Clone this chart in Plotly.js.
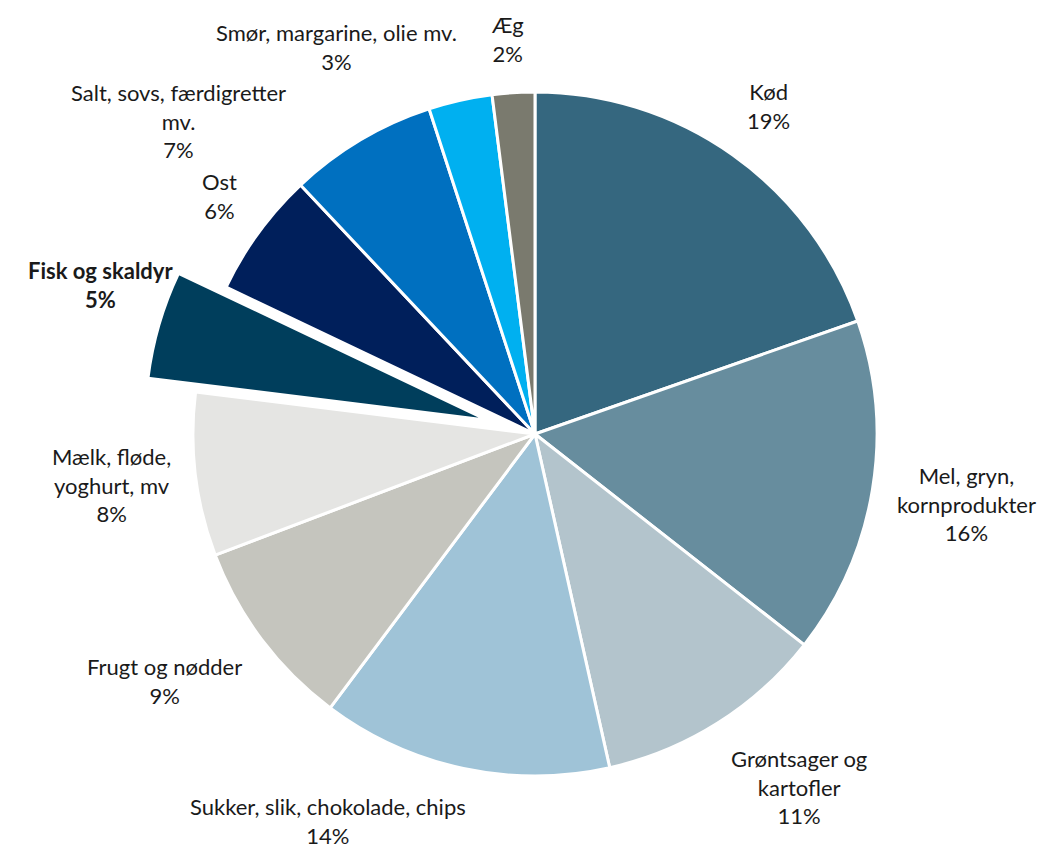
<!DOCTYPE html>
<html><head><meta charset="utf-8">
<script src="https://cdn.plot.ly/plotly-3.0.1.min.js"></script>
<style>body{margin:0;background:#fff}#chart{width:1049px;height:851px}</style>
</head><body><div id="chart"></div>
<script>
const categories = ["Kød","Mel, gryn, kornprodukter","Grøntsager og kartofler","Sukker, slik, chokolade, chips","Frugt og nødder","Mælk, fløde, yoghurt, mv","Fisk og skaldyr","Ost","Salt, sovs, færdigretter mv.","Smør, margarine, olie mv.","Æg"];
const labelLines = ["Kød","Mel, gryn,<br>kornprodukter","Grøntsager og<br>kartofler","Sukker, slik, chokolade, chips","Frugt og nødder","Mælk, fløde,<br>yoghurt, mv","Fisk og skaldyr","Ost","Salt, sovs, færdigretter<br>mv.","Smør, margarine, olie mv.","Æg"];
const shares = [19.6, 15.9, 10.9, 13.7, 9.0, 7.7, 5.1, 5.9, 7.0, 3.0, 2.0];
const shownPct = ["19%","16%","11%","14%","9%","8%","5%","6%","7%","3%","2%"];
const colors = ["#35677F","#678D9E","#B3C4CC","#9FC3D7","#C5C5BE","#E5E5E3","#003E5C","#001F5B","#0070C0","#00B0F0","#7A7A6E"];
const highlighted = "Fisk og skaldyr";

// layout settings (not data)
const W = 1049, H = 851, FS = 22, FONT = 'Lato';
const pullAmount = 0.145;
const highlightLabelShift = [-10, -34]; // px nudge for the exploded slice's label
const pull = categories.map(c => c === highlighted ? pullAmount : 0);
const dom = {x: [0.1367, 0.8833], y: [0.0298, 0.9502]};
const cx = W * (dom.x[0] + dom.x[1]) / 2, cy = H * (1 - (dom.y[0] + dom.y[1]) / 2);
const R = Math.min(W * (dom.x[1] - dom.x[0]), H * (dom.y[1] - dom.y[0])) / 2 / (1 + Math.max(...pull));
const total = shares.reduce((a, b) => a + b, 0);
let cum = 0;
const mids = shares.map(v => { const m = (cum + v / 2) / total * 360; cum += v; return m; });

const ctx = document.createElement('canvas').getContext('2d');
const LH = FS * 1.3, GAP = 25;
const boxes = categories.map((c, i) => {
  const bold = c === highlighted;
  ctx.font = (bold ? 'bold ' : '') + FS + 'px ' + FONT;
  const lines = labelLines[i].split('<br>').concat([shownPct[i]]);
  return {w: Math.max(...lines.map(l => ctx.measureText(l).width)), h: lines.length * LH};
});
const clamp = v => Math.max(-1, Math.min(1, v));
function boxAt(i, theta) {
  const t = theta * Math.PI / 180, s = Math.sin(t), c = Math.cos(t);
  const r = R + GAP;
  let ax = cx + r * s, ay = cy - r * c;
  if (categories[i] === highlighted) { ax += highlightLabelShift[0]; ay += highlightLabelShift[1]; }
  const b = boxes[i];
  const x = ax + b.w / 2 * clamp(4.5 * s), y = ay - b.h / 2 * clamp(1.5 * c);
  return {x, y, x0: x - b.w / 2, x1: x + b.w / 2, y0: y - b.h / 2, y1: y + b.h / 2};
}
const overlap = (a, b) => a.x0 < b.x1 + 4 && b.x0 < a.x1 + 4 && a.y0 < b.y1 + 2 && b.y0 < a.y1 + 2;
const placed = [];
const right = mids.map((m, i) => i).filter(i => mids[i] < 180);
const left = mids.map((m, i) => i).filter(i => mids[i] >= 180).reverse();
function place(i, step) {
  let th = mids[i], b = boxAt(i, th), n = 0;
  while (placed.some(p => overlap(p.b, b)) && n < 200) { th += step; b = boxAt(i, th); n++; }
  placed.push({i, b});
}
right.forEach(i => place(i, 0.5));
left.forEach(i => place(i, -0.5));

const annotations = placed.map(({i, b}) => {
  const bold = categories[i] === highlighted;
  const txt = labelLines[i] + '<br>' + shownPct[i];
  return {
    xref: 'paper', yref: 'paper', x: b.x / W, y: 1 - b.y / H,
    xanchor: 'center', yanchor: 'middle', showarrow: false, align: 'center',
    text: bold ? '<b>' + txt.replace('<br>', '</b><br><b>') + '</b>' : txt,
    font: {family: FONT, size: FS, color: '#1a1a1a'}
  };
});

const trace = {
  type: 'pie', labels: categories, values: shares, sort: false,
  direction: 'clockwise', rotation: 0, pull: pull,
  marker: {colors: colors, line: {color: '#ffffff', width: 3}},
  textinfo: 'none', hoverinfo: 'label+percent', domain: dom
};
Plotly.newPlot('chart', [trace], {
  width: W, height: H, margin: {l: 0, r: 0, t: 0, b: 0},
  showlegend: false, paper_bgcolor: '#ffffff', annotations: annotations,
  font: {family: FONT}
}, {staticPlot: true});
</script>
</body></html>
